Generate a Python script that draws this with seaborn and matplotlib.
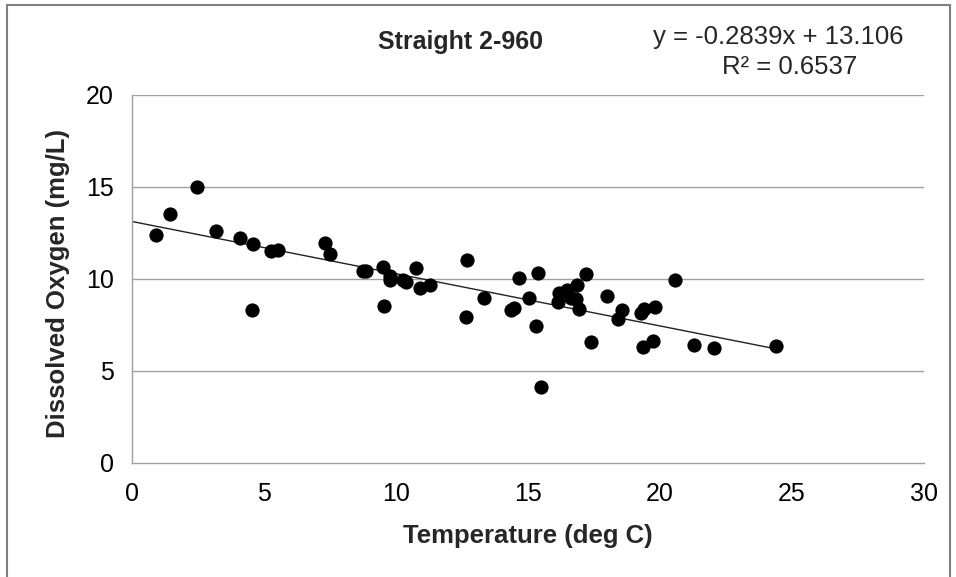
import numpy as np
import pandas as pd
import matplotlib
matplotlib.use("Agg")
import matplotlib.pyplot as plt
import seaborn as sns
from matplotlib.patches import Rectangle

# ---- data ----
temperature = [0.90, 1.44, 2.46, 3.18, 4.10, 4.58, 4.56, 5.25, 5.54, 7.31,
               7.51, 8.75, 8.85, 9.53, 9.76, 9.79, 9.56, 10.28, 10.40, 10.78,
               10.93, 11.31, 12.68, 12.64, 13.32, 14.37, 14.48, 14.67, 15.06, 15.31,
               15.40, 15.49, 16.19, 16.15, 16.49, 16.65, 16.87, 16.84, 16.93, 17.21,
               17.39, 17.99, 18.42, 18.55, 19.28, 19.41, 19.81, 19.38, 19.75, 20.59,
               21.31, 22.05, 24.39]
dissolved_oxygen = [12.36, 13.50, 14.96, 12.58, 12.22, 11.87, 8.27, 11.48, 11.55, 11.91,
                    11.33, 10.42, 10.40, 10.64, 10.16, 9.92, 8.50, 9.92, 9.83, 10.57,
                    9.47, 9.67, 10.99, 7.91, 8.96, 8.29, 8.40, 10.01, 8.96, 7.42,
                    10.28, 4.10, 9.23, 8.74, 9.38, 8.92, 9.65, 8.87, 8.33, 10.24,
                    6.53, 9.05, 7.78, 8.29, 8.11, 8.33, 8.47, 6.26, 6.62, 9.94,
                    6.39, 6.20, 6.32]
slope = -0.2839
intercept = 13.106
r_squared = 0.6537
x_ticks = [0, 5, 10, 15, 20, 25, 30]
y_ticks = [0, 5, 10, 15, 20]
title = "Straight 2-960"
x_label = "Temperature (deg C)"
y_label = "Dissolved Oxygen (mg/L)"

df = pd.DataFrame({"temp": temperature, "do": dissolved_oxygen})

sns.set_theme(style="white")
plt.rcParams["font.family"] = ["Liberation Sans", "DejaVu Sans"]

W, H = 956, 577
fig = plt.figure(figsize=(W / 100, H / 100), dpi=100)
ax = fig.add_axes([132 / W, 1 - 462.5 / H, (923.7 - 132) / W, (462.5 - 94.7) / H])

grid_c = "#a0a0a0"
for yv in y_ticks[1:]:
    ax.axhline(yv, color=grid_c, lw=1.0, zorder=0)

sns.scatterplot(data=df, x="temp", y="do", ax=ax, color="black", s=105,
                edgecolor="black", linewidth=0, zorder=3, legend=False)

xl = np.array([0, max(temperature)])
ax.plot(xl, slope * xl + intercept, color="#222222", lw=1.0, zorder=2)

ax.set_xlim(x_ticks[0], x_ticks[-1])
ax.set_ylim(y_ticks[0], y_ticks[-1])
ax.set_xticks(x_ticks)
ax.set_yticks(y_ticks)
ax.tick_params(axis="both", direction="out", length=6, width=1.0, color=grid_c,
               labelsize=18, labelcolor="black")
ax.tick_params(axis="x", pad=8)
ax.tick_params(axis="y", pad=7)
for side in ["top", "right"]:
    ax.spines[side].set_visible(False)
for side in ["left", "bottom"]:
    ax.spines[side].set_color(grid_c)
    ax.spines[side].set_linewidth(1.0)
ax.grid(False)

ax.set_xlabel("")
ax.set_ylabel("")
fig.text(528 / W, 1 - 536 / H, x_label, ha="center", va="center",
         fontsize=18.5, fontweight="bold")
fig.text(58 / W, 1 - 283 / H, y_label, ha="center", va="center",
         fontsize=18.5, fontweight="bold", rotation=90)
fig.text(460 / W, 1 - 42 / H, title, ha="center", va="center",
         fontsize=18, fontweight="bold")
fig.text(778 / W, 1 - 37 / H, f"y = {slope}x + {intercept}", ha="center",
         va="center", fontsize=18.5)
fig.text(790 / W, 1 - 67 / H, f"R² = {r_squared}", ha="center",
         va="center", fontsize=18.5)

fig.patches.append(Rectangle((7 / W, -0.05), (950 - 7) / W, 1 - 5 / H + 0.05,
                             transform=fig.transFigure, fill=False,
                             edgecolor="#808080", lw=1.5))

fig.savefig("out.png", dpi=100, facecolor="white")
